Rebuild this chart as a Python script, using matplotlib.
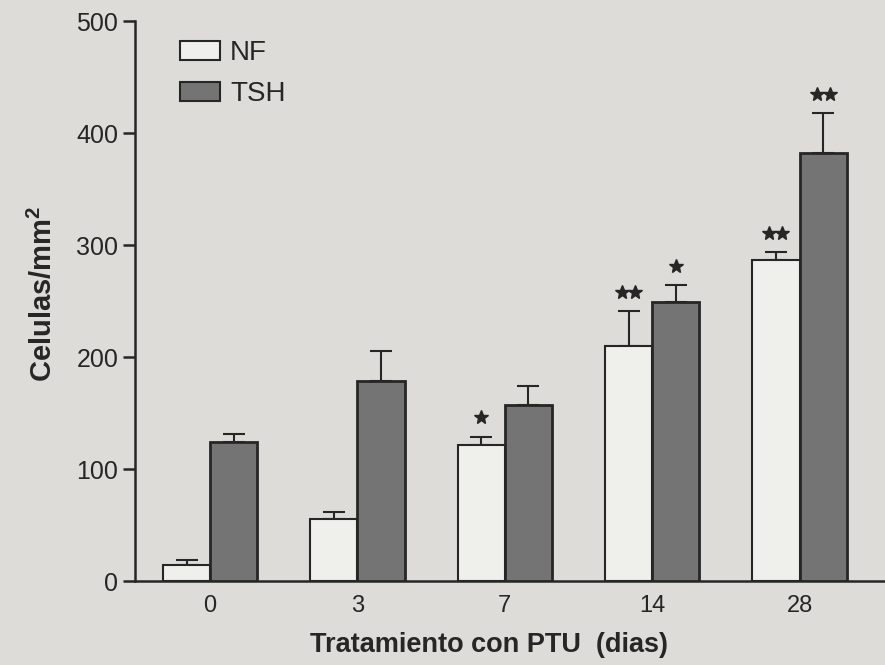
import matplotlib.pyplot as plt
import matplotlib.patches as mpatches
import numpy as np


DAYS = ["0", "3", "7", "14", "28"]
NF_MEAN = [14, 55, 121, 210, 287]
NF_ERR = [5, 7, 8, 31, 7]
TSH_MEAN = [124, 179, 157, 249, 382]
TSH_ERR = [7, 26, 17, 15, 36]
NF_SIG = [0, 0, 1, 2, 2]
TSH_SIG = [0, 0, 0, 1, 2]

BG = "#dddcd8"
NF_FACE = "#efefec"
TSH_FACE = "#747474"
INK = "#262626"


def setup_style() -> None:
    plt.rcParams.update(
        {
            "font.family": ["Liberation Sans", "DejaVu Sans"],
            "mathtext.fontset": "custom",
            "mathtext.rm": "Liberation Sans",
            "mathtext.bf": "Liberation Sans:bold",
            "axes.linewidth": 1.8,
        }
    )


def add_stars(ax, xs, tops, counts, gap=0.088, lift=17) -> None:
    for x, top, n in zip(xs, tops, counts):
        if n == 0:
            continue
        offsets = (np.arange(n) - (n - 1) / 2) * gap
        ax.plot(x + offsets, np.full(n, top + lift), ls="none", marker="*",
                ms=10, color=INK, mec=INK, zorder=5)


def plot() -> None:
    setup_style()
    fig = plt.figure(figsize=(8.85, 6.65), dpi=100, facecolor=BG)
    ax = fig.add_axes([0.1525, 0.1263, 0.8475, 0.8421])
    ax.set_facecolor(BG)

    x = np.arange(len(DAYS))
    width = 0.32
    nf_x = x - width / 2
    tsh_x = x + width / 2

    ax.bar(nf_x, NF_MEAN, width, color=NF_FACE, edgecolor=INK, linewidth=1.5, zorder=3)
    ax.bar(tsh_x, TSH_MEAN, width, color=TSH_FACE, edgecolor=INK, linewidth=2.0, zorder=3)
    ax.errorbar(nf_x, NF_MEAN, yerr=[np.zeros(len(DAYS)), NF_ERR], fmt="none",
                ecolor=INK, elinewidth=1.5, capsize=8, capthick=1.5, zorder=2)
    ax.errorbar(tsh_x, TSH_MEAN, yerr=[np.zeros(len(DAYS)), TSH_ERR], fmt="none",
                ecolor=INK, elinewidth=1.5, capsize=8, capthick=1.5, zorder=2)

    add_stars(ax, nf_x, np.add(NF_MEAN, NF_ERR), NF_SIG)
    add_stars(ax, tsh_x, np.add(TSH_MEAN, TSH_ERR), TSH_SIG)

    ax.set_xlim(-0.51, 4.58)
    ax.set_ylim(0, 500)
    ax.set_xticks(x)
    ax.set_xticklabels(DAYS)
    ax.set_yticks([0, 100, 200, 300, 400, 500])
    ax.tick_params(axis="x", length=0, pad=10, labelsize=17, colors=INK)
    ax.tick_params(axis="y", length=9, width=1.8, pad=3, labelsize=18, colors=INK)

    for side in ("top", "right"):
        ax.spines[side].set_visible(False)
    for side in ("left", "bottom"):
        ax.spines[side].set_color(INK)

    ax.set_ylabel(r"Celulas/mm$^{\mathbf{2}}$", fontsize=21, fontweight="bold", color=INK)
    ax.yaxis.set_label_coords(-0.102, 0.512)
    ax.set_xlabel("Tratamiento con PTU  (dias)", fontsize=19.5, fontweight="bold", color=INK)
    ax.xaxis.label.set_va("center")
    ax.xaxis.set_label_coords(0.472, -0.114)

    handles = [
        mpatches.Patch(facecolor=NF_FACE, edgecolor=INK, linewidth=1.5, label="NF"),
        mpatches.Patch(facecolor=TSH_FACE, edgecolor=INK, linewidth=1.5, label="TSH"),
    ]
    leg = ax.legend(
        handles=handles,
        loc="upper left",
        bbox_to_anchor=(0.06, 0.966),
        frameon=False,
        fontsize=20,
        borderpad=0,
        borderaxespad=0,
        handlelength=1.45,
        handleheight=0.7,
        handletextpad=0.35,
        labelspacing=0.55,
    )
    for t in leg.get_texts():
        t.set_color(INK)

    fig.savefig("out.png", dpi=100, facecolor=BG)
    plt.close(fig)


if __name__ == "__main__":
    plot()
